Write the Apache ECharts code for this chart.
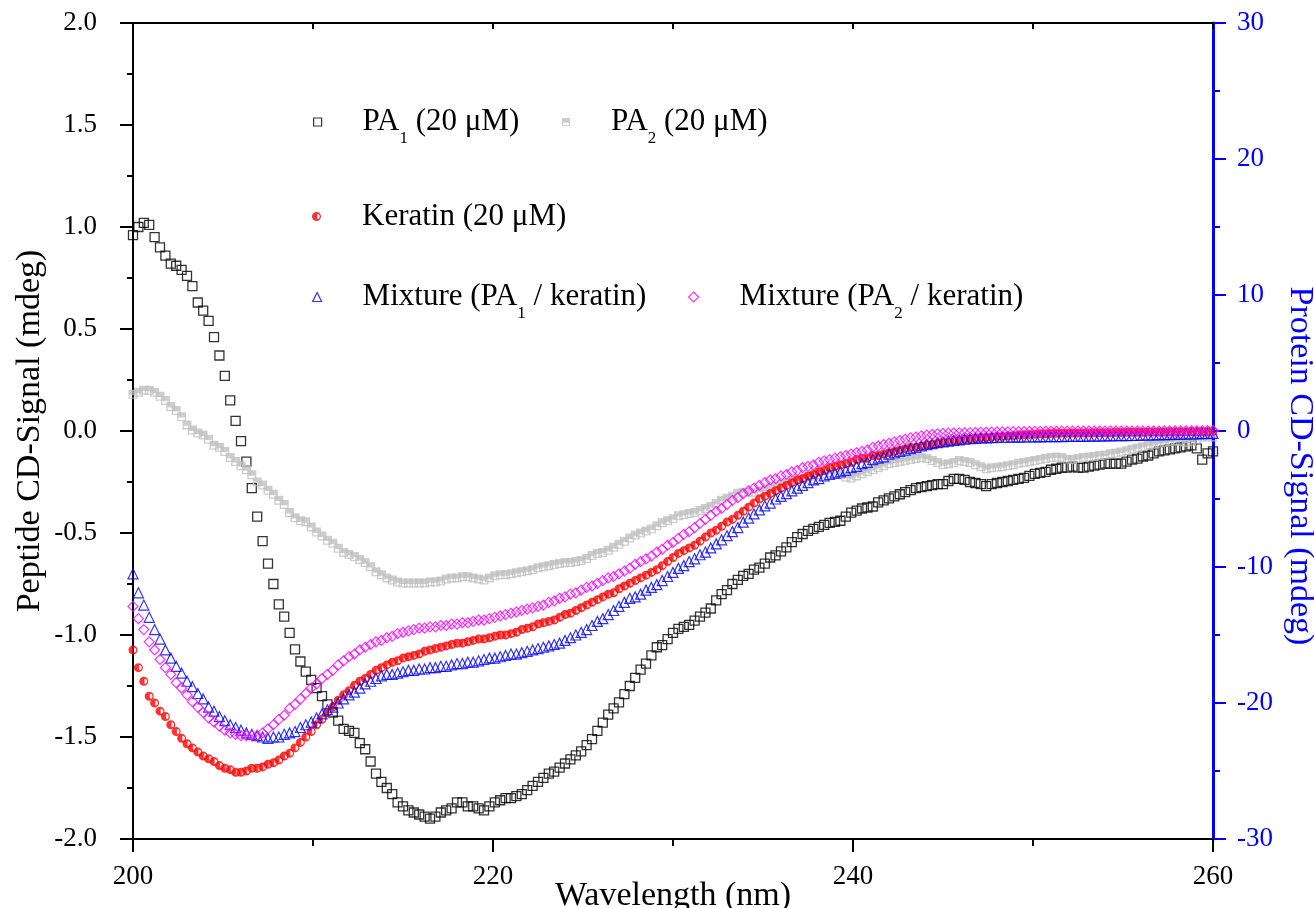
<!DOCTYPE html>
<html>
<head>
<meta charset="utf-8">
<title>CD spectra</title>
<script src="https://cdn.jsdelivr.net/npm/echarts@6/dist/echarts.min.js"></script>
<style>
  html, body { margin: 0; padding: 0; background: #fff; }
  #chart { width: 1314px; height: 908px; }
</style>
</head>
<body>
<div id="chart"></div>
<script>
// wavelength grid (nm): one reading every 0.3 nm from 200 to 260
const wavelengthStart = 200
const wavelengthStep = 0.3

// peptide signals, left axis (mdeg)
const pa1Signal = [
  0.96, 1.00, 1.02, 1.01, 0.95, 0.90, 0.86, 0.82, 0.81, 0.79,
  0.76, 0.71, 0.63, 0.59, 0.54, 0.46, 0.37, 0.27, 0.15, 0.05,
  -0.05, -0.15, -0.28, -0.42, -0.54, -0.65, -0.75, -0.85, -0.91, -0.99,
  -1.07, -1.13, -1.18, -1.22, -1.26, -1.30, -1.34, -1.38, -1.42, -1.46,
  -1.47, -1.48, -1.53, -1.56, -1.62, -1.68, -1.72, -1.75, -1.78, -1.82,
  -1.84, -1.86, -1.87, -1.88, -1.89, -1.90, -1.89, -1.87, -1.86, -1.85,
  -1.82, -1.82, -1.84, -1.84, -1.85, -1.86, -1.84, -1.82, -1.81, -1.80,
  -1.80, -1.79, -1.78, -1.76, -1.74, -1.72, -1.70, -1.68, -1.67, -1.65,
  -1.63, -1.61, -1.59, -1.57, -1.54, -1.51, -1.47, -1.43, -1.39, -1.36,
  -1.33, -1.29, -1.25, -1.21, -1.17, -1.14, -1.10, -1.06, -1.05, -1.02,
  -0.99, -0.97, -0.96, -0.95, -0.93, -0.91, -0.89, -0.87, -0.83, -0.80,
  -0.78, -0.75, -0.73, -0.71, -0.70, -0.68, -0.67, -0.65, -0.62, -0.61,
  -0.59, -0.57, -0.545, -0.52, -0.505, -0.49, -0.48, -0.47, -0.46, -0.45,
  -0.445, -0.44, -0.42, -0.40, -0.39, -0.38, -0.375, -0.37, -0.35, -0.34,
  -0.33, -0.32, -0.31, -0.30, -0.29, -0.28, -0.275, -0.27, -0.265, -0.26,
  -0.26, -0.245, -0.235, -0.235, -0.24, -0.25, -0.255, -0.26, -0.27, -0.26,
  -0.255, -0.25, -0.245, -0.24, -0.235, -0.23, -0.22, -0.21, -0.205, -0.20,
  -0.19, -0.185, -0.18, -0.18, -0.175, -0.18, -0.18, -0.175, -0.17, -0.165,
  -0.16, -0.16, -0.16, -0.16, -0.15, -0.14, -0.135, -0.125, -0.12, -0.11,
  -0.10, -0.095, -0.09, -0.085, -0.08, -0.075, -0.07, -0.085, -0.14, -0.11,
  -0.10
]

const pa2Signal = [
  0.18, 0.19, 0.20, 0.20, 0.19, 0.17, 0.15, 0.12, 0.10, 0.07,
  0.03, 0.005, -0.01, -0.02, -0.04, -0.07, -0.08, -0.10, -0.13, -0.15,
  -0.17, -0.19, -0.215, -0.25, -0.265, -0.29, -0.31, -0.34, -0.36, -0.40,
  -0.425, -0.44, -0.445, -0.47, -0.495, -0.515, -0.535, -0.55, -0.575, -0.595,
  -0.605, -0.615, -0.63, -0.645, -0.665, -0.69, -0.705, -0.72, -0.73, -0.74,
  -0.745, -0.745, -0.745, -0.745, -0.745, -0.74, -0.74, -0.735, -0.725, -0.72,
  -0.72, -0.715, -0.715, -0.72, -0.725, -0.73, -0.72, -0.71, -0.705, -0.705,
  -0.70, -0.695, -0.69, -0.685, -0.68, -0.67, -0.665, -0.66, -0.655, -0.65,
  -0.645, -0.645, -0.64, -0.635, -0.625, -0.61, -0.60, -0.595, -0.585, -0.57,
  -0.555, -0.54, -0.525, -0.51, -0.50, -0.49, -0.48, -0.465, -0.45, -0.44,
  -0.43, -0.415, -0.41, -0.405, -0.40, -0.39, -0.38, -0.37, -0.355, -0.34,
  -0.33, -0.32, -0.305, -0.30, -0.30, -0.30, -0.295, -0.29, -0.28, -0.27,
  -0.26, -0.255, -0.245, -0.24, -0.235, -0.225, -0.22, -0.215, -0.21, -0.205,
  -0.21, -0.215, -0.225, -0.23, -0.22, -0.21, -0.20, -0.19, -0.18, -0.17,
  -0.16, -0.155, -0.15, -0.145, -0.14, -0.135, -0.13, -0.135, -0.145, -0.155,
  -0.165, -0.16, -0.155, -0.145, -0.15, -0.155, -0.165, -0.175, -0.185, -0.18,
  -0.178, -0.175, -0.17, -0.165, -0.158, -0.155, -0.15, -0.145, -0.14, -0.135,
  -0.13, -0.128, -0.13, -0.138, -0.14, -0.135, -0.13, -0.128, -0.125, -0.12,
  -0.118, -0.112, -0.108, -0.103, -0.097, -0.09, -0.083, -0.077, -0.07, -0.065,
  -0.06, -0.055, -0.05, -0.048, -0.05, -0.055, -0.05, -0.04, -0.03, -0.03,
  -0.03
]

// protein signals, right axis (mdeg)
const keratinSignal = [
  -16.1, -17.4, -18.4, -19.5, -20.0, -20.6, -21.0, -21.6, -22.1, -22.6,
  -23.0, -23.3, -23.6, -23.9, -24.1, -24.3, -24.6, -24.8, -24.9, -25.1,
  -25.1, -25.0, -24.8, -24.8, -24.7, -24.5, -24.4, -24.2, -23.9, -23.7,
  -23.3, -22.9, -22.5, -22.1, -21.6, -21.2, -20.7, -20.3, -19.8, -19.4,
  -19.1, -18.7, -18.4, -18.2, -17.9, -17.6, -17.4, -17.2, -17.0, -16.9,
  -16.7, -16.6, -16.5, -16.4, -16.2, -16.1, -16.0, -15.9, -15.8, -15.7,
  -15.6, -15.6, -15.5, -15.4, -15.3, -15.3, -15.2, -15.1, -15.0, -15.0,
  -14.9, -14.8, -14.6, -14.5, -14.4, -14.2, -14.1, -14.0, -13.9, -13.7,
  -13.5, -13.4, -13.2, -13.0, -12.8, -12.6, -12.4, -12.2, -12.0, -11.9,
  -11.6, -11.4, -11.2, -11.0, -10.8, -10.6, -10.4, -10.2, -9.9, -9.6,
  -9.3, -9.0, -8.8, -8.6, -8.4, -8.1, -7.8, -7.5, -7.3, -7.0,
  -6.7, -6.5, -6.2, -5.9, -5.6, -5.3, -5.0, -4.8, -4.6, -4.4,
  -4.2, -4.0, -3.8, -3.6, -3.5, -3.3, -3.2, -3.0, -2.9, -2.7,
  -2.6, -2.5, -2.4, -2.3, -2.1, -2.0, -2.0, -1.8, -1.8, -1.7,
  -1.6, -1.5, -1.4, -1.3, -1.2, -1.2, -1.1, -1.0, -1.0, -0.9,
  -0.8, -0.8, -0.7, -0.7, -0.6, -0.6, -0.55, -0.5, -0.5, -0.45,
  -0.4, -0.4, -0.36, -0.33, -0.3, -0.27, -0.25, -0.23, -0.21, -0.2,
  -0.18, -0.17, -0.16, -0.16, -0.15, -0.15, -0.14, -0.14, -0.13, -0.13,
  -0.12, -0.12, -0.11, -0.11, -0.10, -0.10, -0.09, -0.09, -0.08, -0.08,
  -0.07, -0.07, -0.06, -0.06, -0.05, -0.05, -0.04, -0.04, -0.03, -0.03,
  -0.02
]

const mixPa1Signal = [
  -10.5, -11.9, -12.8, -13.7, -14.6, -15.3, -16.1, -16.7, -17.3, -17.8,
  -18.4, -18.8, -19.3, -19.7, -20.3, -20.6, -21.0, -21.3, -21.6, -21.8,
  -22.0, -22.2, -22.3, -22.4, -22.5, -22.6, -22.5, -22.5, -22.3, -22.2,
  -22.1, -21.8, -21.6, -21.4, -21.1, -20.8, -20.5, -20.3, -20.0, -19.7,
  -19.4, -19.2, -18.9, -18.6, -18.4, -18.2, -18.0, -17.9, -17.9, -17.8,
  -17.7, -17.6, -17.6, -17.5, -17.5, -17.4, -17.4, -17.3, -17.3, -17.2,
  -17.1, -17.1, -17.0, -17.0, -16.9, -16.8, -16.7, -16.7, -16.6, -16.5,
  -16.4, -16.4, -16.3, -16.2, -16.1, -16.0, -15.9, -15.8, -15.7, -15.6,
  -15.4, -15.2, -15.0, -14.8, -14.6, -14.3, -14.0, -13.8, -13.5, -13.2,
  -12.9, -12.6, -12.3, -12.2, -12.0, -11.7, -11.5, -11.3, -11.0, -10.7,
  -10.4, -10.1, -9.9, -9.6, -9.4, -9.1, -8.9, -8.6, -8.3, -8.0,
  -7.7, -7.4, -7.1, -6.7, -6.4, -6.1, -5.8, -5.5, -5.3, -5.0,
  -4.8, -4.6, -4.4, -4.2, -4.0, -3.8, -3.6, -3.5, -3.3, -3.2,
  -3.1, -3.0, -2.9, -2.7, -2.6, -2.4, -2.3, -2.1, -2.0, -1.9,
  -1.7, -1.6, -1.5, -1.4, -1.3, -1.2, -1.1, -1.0, -0.93, -0.86,
  -0.8, -0.74, -0.69, -0.65, -0.6, -0.57, -0.54, -0.51, -0.5, -0.48,
  -0.47, -0.46, -0.46, -0.45, -0.45, -0.44, -0.44, -0.43, -0.43, -0.42,
  -0.42, -0.41, -0.41, -0.40, -0.40, -0.39, -0.39, -0.38, -0.38, -0.37,
  -0.36, -0.36, -0.35, -0.34, -0.34, -0.33, -0.32, -0.31, -0.30, -0.29,
  -0.28, -0.27, -0.26, -0.25, -0.24, -0.23, -0.22, -0.21, -0.20, -0.19,
  -0.18
]

const mixPa2Signal = [
  -12.9, -13.8, -14.6, -15.5, -16.1, -16.8, -17.4, -17.9, -18.5, -18.9,
  -19.4, -19.9, -20.3, -20.7, -21.1, -21.4, -21.7, -22.0, -22.2, -22.3,
  -22.4, -22.4, -22.4, -22.4, -22.2, -21.9, -21.6, -21.2, -20.9, -20.4,
  -20.1, -19.7, -19.3, -18.9, -18.6, -18.2, -17.9, -17.6, -17.2, -16.9,
  -16.6, -16.4, -16.1, -15.9, -15.7, -15.5, -15.4, -15.2, -15.1, -14.9,
  -14.8, -14.7, -14.6, -14.5, -14.5, -14.4, -14.4, -14.3, -14.3, -14.2,
  -14.2, -14.1, -14.1, -14.0, -13.9, -13.9, -13.8, -13.7, -13.6, -13.5,
  -13.4, -13.3, -13.2, -13.1, -13.0, -12.9, -12.8, -12.6, -12.5, -12.3,
  -12.2, -12.0, -11.9, -11.7, -11.5, -11.4, -11.2, -11.0, -10.8, -10.7,
  -10.5, -10.3, -10.1, -9.8, -9.6, -9.4, -9.2, -8.9, -8.7, -8.4,
  -8.2, -7.9, -7.6, -7.4, -7.1, -6.8, -6.5, -6.2, -5.9, -5.7,
  -5.4, -5.1, -4.9, -4.6, -4.4, -4.2, -4.0, -3.8, -3.6, -3.5,
  -3.3, -3.2, -3.0, -2.9, -2.7, -2.6, -2.5, -2.3, -2.2, -2.1,
  -2.0, -1.9, -1.8, -1.7, -1.6, -1.5, -1.4, -1.2, -1.1, -1.0,
  -0.9, -0.8, -0.7, -0.6, -0.51, -0.44, -0.36, -0.3, -0.26, -0.21,
  -0.18, -0.16, -0.15, -0.14, -0.13, -0.12, -0.11, -0.10, -0.09, -0.08,
  -0.07, -0.06, -0.06, -0.05, -0.05, -0.04, -0.04, -0.03, -0.03, -0.02,
  -0.02, -0.02, -0.01, -0.01, -0.01, 0, 0, 0, 0, 0,
  0, 0, 0, 0, 0, 0, 0, 0, 0, 0,
  0, 0.01, 0.01, 0.01, 0.01, 0.02, 0.02, 0.02, 0.02, 0.03,
  0.03
]

const wavelengths = pa1Signal.map((_, i) => +(wavelengthStart + i * wavelengthStep).toFixed(1))
const pairs = (values) => values.map((v, i) => [wavelengths[i], v])

const serif = "'Liberation Serif', 'Times New Roman', serif"
const blue = '#0000ff'

// half-filled markers, as in the original plot
const halfSquare = 'path://M0,0L10,0L10,10L0,10Z M1.5,6L1.5,8.6L8.5,8.6L8.5,6Z'
const halfCircle = 'path://M5,0A5,5,0,0,1,5,10A5,5,0,0,1,5,0Z M5.8,2.2L5.8,7.8A2.8,2.8,0,0,0,5.8,2.2Z'

// legend text: first token carries the gap between marker and text
const legendRich = {
  f: { fontFamily: serif, fontSize: 31, lineHeight: 32, color: '#000', verticalAlign: 'top', padding: [0, 0, 0, 36] },
  a: { fontFamily: serif, fontSize: 31, lineHeight: 32, color: '#000', verticalAlign: 'top' },
  s: { fontFamily: serif, fontSize: 17, lineHeight: 17, color: '#000', verticalAlign: 'top', padding: [24, 0, 0, 0] },
  k: { fontFamily: serif, fontSize: 31, lineHeight: 32, color: '#000', padding: [0, 0, 0, 36] }
}

const legendLabels = {
  'PA1': '{f|PA}{s|1}{a| (20 μM)}',
  'PA2': '{f|PA}{s|2}{a| (20 μM)}',
  'Keratin': '{k|Keratin (20 μM)}',
  'Mix1': '{f|Mixture (PA}{s|1}{a| / keratin)}',
  'Mix2': '{f|Mixture (PA}{s|2}{a| / keratin)}'
}

function legendAt(name, left, top, size) {
  return {
    data: [name],
    left: left,
    top: top,
    padding: 0,
    itemWidth: size,
    itemHeight: size,
    selectedMode: false,
    itemStyle: { borderWidth: 1.2 },
    formatter: (n) => legendLabels[n],
    textStyle: { fontFamily: serif, fontSize: 31, color: '#000', rich: legendRich }
  }
}

const chart = echarts.init(document.getElementById('chart'))

const tickStyle = { color: '#000', width: 2 }

chart.setOption({
  animation: false,
  backgroundColor: '#fff',
  grid: { left: 133, right: 101, top: 23, bottom: 69, containLabel: false, outerBoundsMode: 'none' },
  legend: [
    legendAt('PA1', 313, 106, 8),
    legendAt('PA2', 562, 106, 8),
    legendAt('Keratin', 312, 201, 9),
    legendAt('Mix1', 312, 281, 9),
    legendAt('Mix2', 688, 281, 10)
  ],
  xAxis: [
    {
      type: 'value',
      min: 200,
      max: 260,
      interval: 20,
      name: 'Wavelength (nm)',
      nameLocation: 'middle',
      nameGap: 40,
      nameMoveOverlap: false,
      nameTextStyle: { fontFamily: serif, fontSize: 34, color: '#000' },
      axisLine: { onZero: false, lineStyle: tickStyle },
      axisTick: { length: 13, lineStyle: tickStyle },
      minorTick: { show: true, splitNumber: 2, length: 7, lineStyle: tickStyle },
      axisLabel: { fontFamily: serif, fontSize: 27, color: '#000', margin: 24 },
      splitLine: { show: false }
    },
    {
      type: 'value',
      position: 'top',
      min: 200,
      max: 260,
      interval: 20,
      axisLine: { onZero: false, lineStyle: tickStyle },
      axisTick: { inside: true, length: 6, lineStyle: tickStyle },
      minorTick: { show: true, splitNumber: 2, length: 6, lineStyle: tickStyle },
      axisLabel: { show: false },
      splitLine: { show: false }
    }
  ],
  yAxis: [
    {
      type: 'value',
      position: 'left',
      min: -2,
      max: 2,
      interval: 0.5,
      name: 'Peptide CD-Signal (mdeg)',
      nameLocation: 'middle',
      nameGap: 86,
      nameMoveOverlap: false,
      nameTextStyle: { fontFamily: serif, fontSize: 34, color: '#000' },
      axisLine: { show: true, onZero: false, lineStyle: tickStyle },
      axisTick: { show: true, length: 13, lineStyle: tickStyle },
      minorTick: { show: true, splitNumber: 2, length: 6, lineStyle: tickStyle },
      axisLabel: { fontFamily: serif, fontSize: 27, color: '#000', margin: 36, formatter: (v) => v.toFixed(1) },
      splitLine: { show: false }
    },
    {
      type: 'value',
      position: 'right',
      min: -30,
      max: 30,
      interval: 10,
      name: 'Protein CD-Signal (mdeg)',
      nameLocation: 'middle',
      nameRotate: -90,
      nameGap: 70,
      nameMoveOverlap: false,
      nameTextStyle: { fontFamily: serif, fontSize: 34, color: blue, padding: [0, 0, 0, 70] },
      axisLine: { show: true, onZero: false, lineStyle: { color: blue, width: 3 } },
      axisTick: { show: true, length: 13, lineStyle: { color: blue, width: 2 } },
      minorTick: { show: true, splitNumber: 2, length: 7, lineStyle: { color: blue, width: 2 } },
      axisLabel: { fontFamily: serif, fontSize: 27, color: blue, margin: 24 },
      splitLine: { show: false }
    }
  ],
  series: [
    {
      name: 'PA1', type: 'scatter', yAxisIndex: 0,
      symbol: 'rect', symbolSize: 9,
      itemStyle: { color: 'rgba(0,0,0,0)', borderColor: '#000', borderWidth: 1.3 },
      data: pairs(pa1Signal)
    },
    {
      name: 'PA2', type: 'scatter', yAxisIndex: 0,
      symbol: halfSquare, symbolSize: 9,
      itemStyle: { color: '#c0c0c0' },
      data: pairs(pa2Signal)
    },
    {
      name: 'Keratin', type: 'scatter', yAxisIndex: 1,
      symbol: halfCircle, symbolSize: 9,
      itemStyle: { color: '#ff0000' },
      data: pairs(keratinSignal)
    },
    {
      name: 'Mix1', type: 'scatter', yAxisIndex: 1,
      symbol: 'triangle', symbolSize: 10,
      itemStyle: { color: 'rgba(0,0,0,0)', borderColor: blue, borderWidth: 1.2 },
      data: pairs(mixPa1Signal)
    },
    {
      name: 'Mix2', type: 'scatter', yAxisIndex: 1,
      symbol: 'diamond', symbolSize: 10,
      itemStyle: { color: 'rgba(0,0,0,0)', borderColor: '#ff00ff', borderWidth: 1.2 },
      data: pairs(mixPa2Signal)
    }
  ]
})

window.addEventListener('resize', () => chart.resize())
</script>
</body>
</html>
